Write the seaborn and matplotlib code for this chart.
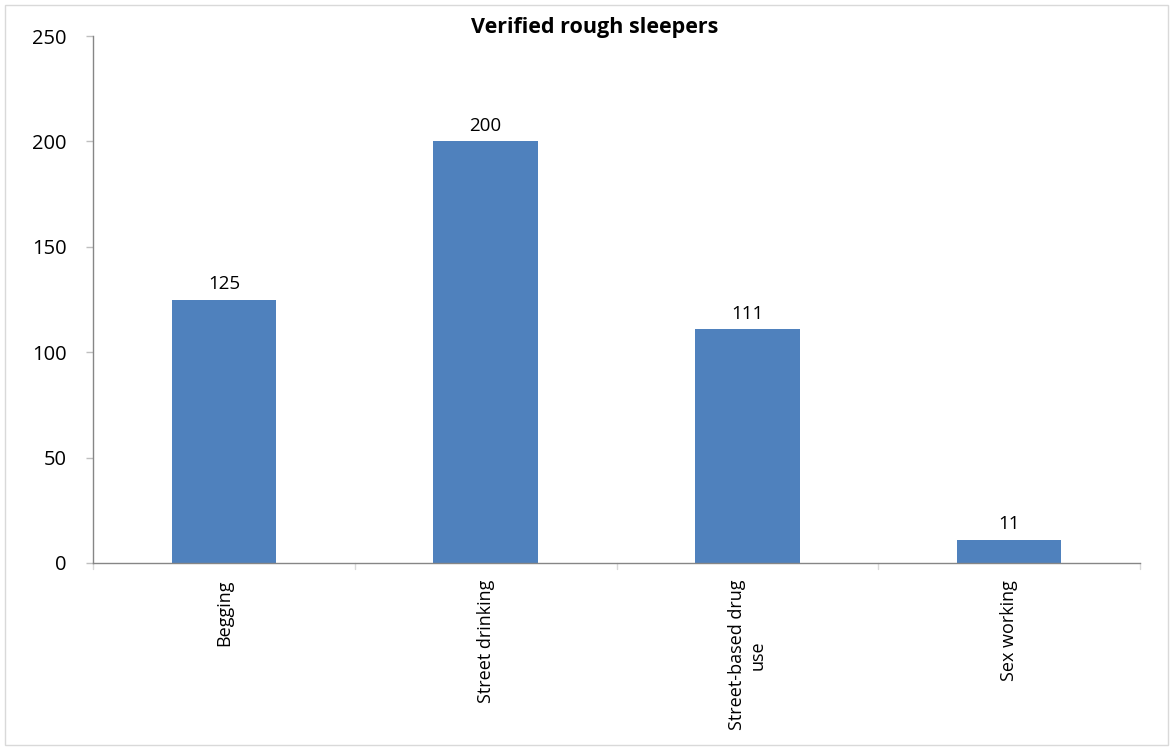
import matplotlib
matplotlib.use("Agg")
import matplotlib.pyplot as plt
import seaborn as sns
import pandas as pd
from matplotlib.patches import Rectangle

categories = ["Begging", "Street drinking", "Street-based drug\nuse", "Sex working"]
values = [125, 200, 111, 11]
yticks = [0, 50, 100, 150, 200, 250]
title = "Verified rough sleepers"

sns.set_style("white")
plt.rcParams['font.family'] = ['Open Sans', 'DejaVu Sans']

df = pd.DataFrame({"category": categories, "value": values})

fig = plt.figure(figsize=(11.73, 7.5), dpi=100)
ax = fig.add_axes([93/1173, 1-563/750, (1140-93)/1173, (563-36)/750])

sns.barplot(data=df, x="category", y="value", color="#4F81BD", width=0.4,
            saturation=1, ax=ax, edgecolor="none")

ax.set_ylim(0, 250)
ax.set_xlim(-0.5, len(categories) - 0.5)
ax.set_yticks(yticks)
ax.set_yticklabels([str(v) for v in yticks], fontsize=14.5, color="black")
ax.set_xlabel("")
ax.set_ylabel("")

ax.set_xticks(range(len(categories)))
ax.set_xticklabels(categories, rotation=90, fontsize=13, ha="center", va="top",
                   multialignment="center", color="black")
ax.tick_params(axis="x", length=0, pad=12)
ax.tick_params(axis="y", length=5, color="#BFBFBF", width=1, pad=14, left=True)

# boundary ticks on x axis
for b in [i - 0.5 for i in range(len(categories) + 1)]:
    ax.plot([b, b], [0, -0.012], transform=ax.get_xaxis_transform(),
            color="#D9D9D9", lw=1, clip_on=False)

for s in ["top", "right"]:
    ax.spines[s].set_visible(False)
for s in ["left", "bottom"]:
    ax.spines[s].set_color("#868686")
    ax.spines[s].set_linewidth(1)

for i, v in enumerate(values):
    ax.text(i, v + 3, str(v), ha="center", va="bottom", fontsize=13.5, color="black")

fig.text(595/1173, 1-28/750, title, ha="center", va="center", fontsize=15.5,
         fontweight="bold", color="black")

fig.patches.append(Rectangle((5/1173, 5/750), 1-10/1173, 1-10/750, transform=fig.transFigure,
                             fill=False, edgecolor="#D9D9D9", lw=1))

fig.savefig("out.png", dpi=100)
